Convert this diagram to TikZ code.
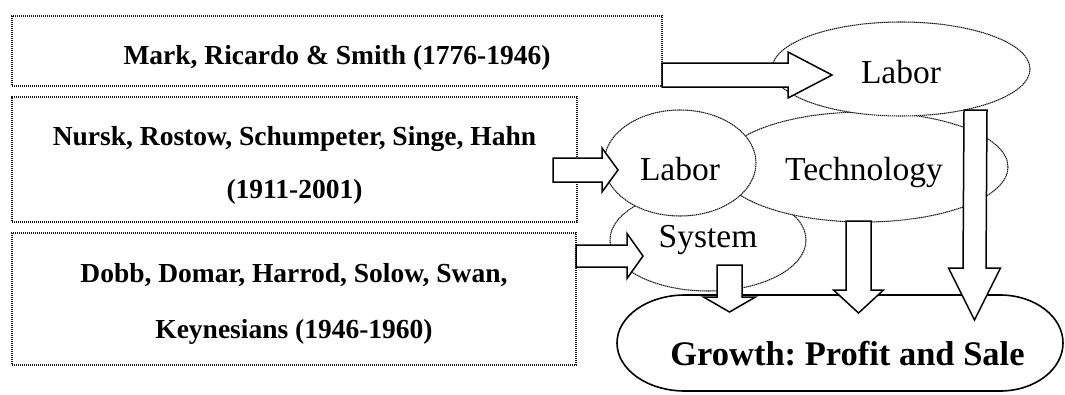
\documentclass[tikz,border=0pt]{standalone}
\usepackage{fontspec}
\setmainfont{Liberation Serif}
\usetikzlibrary{calc,shapes.geometric}
\frenchspacing
\newcommand\boxfont{\fontsize{27.5}{33}\selectfont\bfseries}
\newcommand\ellfont{\fontsize{33.5}{40}\selectfont}
\newcommand\growfont{\fontsize{34.5}{41}\selectfont\bfseries}
% horizontal block arrow: start, tip, shaft half width, head half width, head length
\newcommand\harrow[5]{\draw[blockarrow] ($(#1)+(0,-#3)$) -- ($(#2)+(-#5,-#3)$) -- ($(#2)+(-#5,-#4)$) -- (#2) -- ($(#2)+(-#5,#4)$) -- ($(#2)+(-#5,#3)$) -- ($(#1)+(0,#3)$) -- cycle;}
% downward block arrow
\newcommand\varrow[5]{\draw[blockarrow] ($(#1)+(-#3,0)$) -- ($(#2)+(-#3,-#5)$) -- ($(#2)+(-#4,-#5)$) -- (#2) -- ($(#2)+(#4,-#5)$) -- ($(#2)+(#3,-#5)$) -- ($(#1)+(#3,0)$) -- cycle;}
\tikzset{
  dotline/.style={draw=black!90, line width=1.05pt, dash pattern=on 1.4pt off 0.6pt},
  srcbox/.style={dotline, rectangle, inner sep=0pt, outer sep=0pt},
  ell/.style={dotline, ellipse, fill=white, inner sep=0pt, outer sep=0pt, font=\ellfont, text depth=0pt},
  blockarrow/.style={draw=black, fill=white, line width=1.5pt, line join=miter},
  boxtext/.style={anchor=base, font=\boxfont, inner sep=0pt},
}
\begin{document}
\begin{tikzpicture}[x=1pt,y=-1pt]
\clip (0,0) rectangle (1065,394);
\fill[white] (0,0) rectangle (1065,394);

% source boxes
\node[srcbox, minimum width=650pt, minimum height=70pt] (b1) at (337,51) {};
\node[srcbox, minimum width=565pt, minimum height=125pt] (b2) at (294.5,159.5) {};
\node[srcbox, minimum width=564pt, minimum height=132pt] (b3) at (294,299) {};

\node[boxtext] (t1) at (337,64) {Mark, Ricardo \& Smith (1776-1946)};
\node[boxtext] (t2a) at (294.5,145) {Nursk, Rostow, Schumpeter, Singe, Hahn};
\node[boxtext] (t2b) at (294.5,198) {(1911-2001)};
\node[boxtext] (t3a) at (294,282) {Dobb, Domar, Harrod, Solow, Swan,};
\node[boxtext] (t3b) at (294,338) {Keynesians (1946-1960)};

% growth shape
\draw[line width=1.6pt, fill=white] (685,295) -- (1000,295)
  arc[start angle=-90, end angle=90, x radius=63, y radius=48]
  -- (685,391)
  arc[start angle=90, end angle=270, x radius=68, y radius=48] -- cycle;
\node[anchor=base, font=\growfont, inner sep=0pt] (g) at (847.5,365) {Growth: Profit and Sale};

% factor ellipses
\node[ell, minimum width=196pt, minimum height=102pt, text height=14pt] (sys) at (708,240) {System};
\node[ell, minimum width=288pt, minimum height=110pt, text height=26pt] (tech) at (864,167) {Technology};
\node[ell, minimum width=152pt, minimum height=106pt, text height=34pt] (lab2) at (680,163) {Labor};
\node[ell, minimum width=258pt, minimum height=94pt, text height=28pt] (lab1) at (901,69) {Labor};

% arrow end points
\coordinate (a1e) at (832,75);
\coordinate (a1s) at (b1.east |- a1e);
\coordinate (a2s) at (553,170);
\coordinate (a2e) at (618,170);
\coordinate (a3e) at (643,256);
\coordinate (a3s) at (b3.east |- a3e);
\coordinate (a4s) at (729.5,265);
\coordinate (a4e) at (729.5,312);
\coordinate (a5s) at (858.5,221);
\coordinate (a5e) at (858.5,313);
\coordinate (a6s) at (975.5,110);
\coordinate (a6e) at (974.5,320);

\harrow{a1s}{a1e}{12}{23}{44}
\harrow{a2s}{a2e}{12}{22}{16}
\harrow{a3s}{a3e}{11}{22.5}{16}
\varrow{a4s}{a4e}{12.5}{26}{15}
\varrow{a5s}{a5e}{12.5}{25}{23}
\varrow{a6s}{a6e}{11.5}{26}{52}
\end{tikzpicture}
\end{document}
